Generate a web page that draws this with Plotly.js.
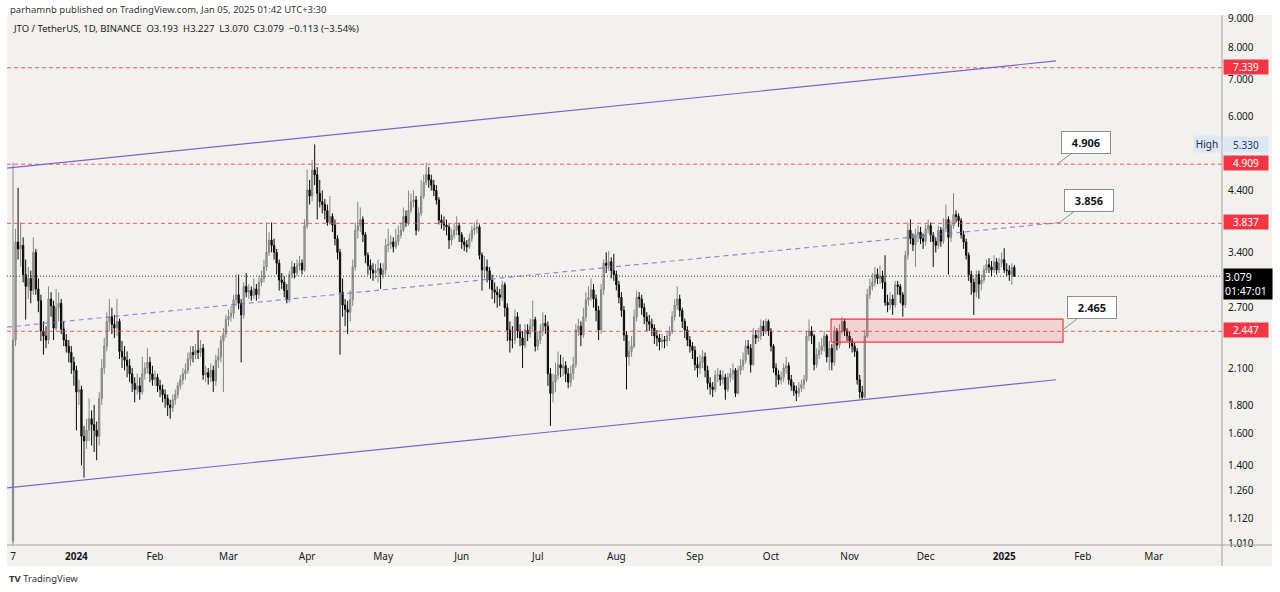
<!DOCTYPE html>
<html><head><meta charset="utf-8">
<script src="https://cdn.plot.ly/plotly-3.0.1.min.js"></script>
<style>html,body{margin:0;padding:0;background:#fff;}#chart{width:1280px;height:592px;}</style>
</head><body><div id="chart"></div>
<script>
// ---- data ----
const startDate = '2023-12-07';          // first daily candle (JTO listing)
const firstOpen = 1.02;
const close = [
2.36,3.55,3.45,3.50,3.10,2.95,3.05,2.90,3.40,2.92,
2.78,2.45,2.40,2.36,2.80,2.72,2.48,2.70,2.75,2.47,
2.36,2.30,2.24,2.15,2.08,1.90,1.92,1.58,1.55,1.62,
1.70,1.66,1.62,1.58,1.85,2.10,2.30,2.55,2.60,2.52,
2.48,2.55,2.25,2.20,2.17,2.12,2.05,1.97,1.92,1.95,
1.90,2.05,2.10,2.15,2.05,2.00,2.02,1.95,1.92,1.88,
1.85,1.80,1.78,1.84,1.88,1.95,2.00,2.05,2.08,2.18,
2.24,2.22,2.26,2.24,2.28,2.04,2.06,2.02,2.08,1.99,
2.17,2.20,2.35,2.42,2.57,2.60,2.64,2.79,2.85,2.75,
2.62,2.95,2.88,2.90,2.84,2.92,2.85,3.00,3.05,3.20,
3.40,3.58,3.50,3.40,3.25,3.03,3.00,2.90,2.79,3.10,
3.20,3.12,3.22,3.25,3.16,3.80,4.41,4.30,4.79,4.70,
4.35,4.20,4.15,4.05,3.85,3.95,3.81,3.60,3.40,2.88,
2.73,2.68,2.65,2.79,3.20,3.73,3.80,3.90,3.66,3.36,
3.22,3.16,3.12,3.15,3.18,3.10,3.16,3.50,3.52,3.55,
3.48,3.56,3.65,3.73,3.95,3.85,4.05,4.20,4.23,3.73,
4.00,4.30,4.55,4.70,4.60,4.50,4.40,4.23,3.89,3.85,
3.81,3.78,3.58,3.65,3.73,3.80,3.66,3.55,3.51,3.48,
3.60,3.73,3.76,3.78,3.36,3.16,3.20,3.15,3.03,2.91,
2.88,2.85,2.82,2.97,2.70,2.46,2.36,2.36,2.60,2.45,
2.38,2.31,2.46,2.42,2.50,2.57,2.30,2.36,2.45,2.53,
2.50,2.05,1.89,1.98,2.04,2.13,2.10,2.12,2.05,1.98,
2.05,2.13,2.46,2.50,2.41,2.60,2.79,2.82,2.91,2.80,
2.67,2.46,2.91,3.25,3.22,3.27,3.15,3.10,2.97,2.82,
2.67,2.41,2.20,2.25,2.30,2.60,2.82,2.80,2.70,2.60,
2.55,2.52,2.48,2.40,2.38,2.34,2.36,2.35,2.40,2.45,
2.60,2.73,2.80,2.67,2.55,2.46,2.36,2.30,2.26,2.13,
2.10,2.15,2.20,2.08,1.97,1.94,1.92,2.04,2.04,2.00,
2.02,1.92,2.02,2.05,2.08,1.89,2.08,2.12,2.17,2.30,
2.28,2.13,2.41,2.38,2.40,2.50,2.45,2.55,2.45,2.30,
2.10,2.04,2.00,2.02,2.10,2.12,2.00,1.95,1.91,1.89,
1.93,1.96,2.00,2.40,2.45,2.40,2.13,2.22,2.26,2.30,
2.40,2.20,2.28,2.15,2.45,2.31,2.45,2.55,2.45,2.40,
2.35,2.30,2.25,2.00,1.90,1.86,2.40,2.85,2.95,3.00,
3.10,3.05,3.08,3.00,2.76,2.73,2.80,2.73,2.97,2.95,
2.85,2.73,3.36,3.73,3.60,3.51,3.66,3.70,3.60,3.56,
3.75,3.80,3.65,3.56,3.50,3.73,3.56,3.75,3.90,3.62,
3.80,3.98,3.95,3.88,3.66,3.55,3.36,3.10,3.00,2.88,
3.10,2.98,3.03,3.16,3.23,3.20,3.16,3.27,3.16,3.25,
3.30,3.16,3.15,3.10,3.193,3.079];
const high = [
4.94,3.75,4.45,3.85,3.62,3.30,3.20,3.15,3.62,3.45,
3.05,2.85,2.55,2.50,2.95,2.88,2.78,2.92,2.88,2.80,
2.55,2.42,2.36,2.30,2.20,2.12,2.00,1.95,1.65,1.70,
1.85,1.76,1.80,1.68,1.90,2.18,2.38,2.65,2.80,2.70,
2.62,2.80,2.58,2.35,2.30,2.25,2.18,2.10,2.02,2.05,
2.02,2.20,2.15,2.28,2.20,2.12,2.08,2.05,2.00,1.96,
1.92,1.88,1.84,1.88,1.92,1.98,2.04,2.10,2.14,2.24,
2.30,2.30,2.32,2.46,2.36,2.32,2.12,2.10,2.14,2.12,
2.22,2.28,2.40,2.48,2.62,2.68,2.72,2.85,3.10,3.10,
2.80,3.00,3.12,2.98,2.95,3.05,2.98,3.08,3.15,3.30,
3.85,3.70,3.85,3.60,3.45,3.30,3.12,3.08,2.98,3.15,
3.28,3.25,3.30,3.35,3.30,3.90,4.80,4.60,5.00,5.33,
4.85,4.60,4.40,4.25,4.15,4.30,4.00,3.90,3.65,3.45,
3.05,2.80,2.78,2.90,3.30,3.85,4.20,4.10,3.95,3.70,
3.40,3.30,3.25,3.24,3.30,3.25,3.25,3.60,3.75,3.65,
3.62,3.75,3.80,3.85,4.10,4.05,4.40,4.35,4.40,4.30,
4.10,4.60,4.70,4.94,4.85,4.70,4.60,4.50,4.28,3.98,
3.95,3.90,3.82,3.75,3.85,3.95,3.85,3.70,3.62,3.58,
3.68,3.80,3.85,3.90,3.82,3.40,3.35,3.30,3.20,3.10,
3.00,2.95,2.92,3.02,3.00,2.75,2.55,2.50,2.68,2.65,
2.52,2.45,2.52,2.52,2.58,2.78,2.60,2.45,2.52,2.65,
2.62,2.55,2.10,2.05,2.15,2.25,2.22,2.20,2.16,2.10,
2.12,2.20,2.52,2.58,2.55,2.70,2.88,2.95,3.05,2.98,
2.85,2.72,2.98,3.30,3.40,3.42,3.33,3.38,3.15,3.02,
2.88,2.72,2.45,2.35,2.40,2.68,2.90,2.88,2.85,2.75,
2.65,2.62,2.58,2.52,2.46,2.42,2.42,2.40,2.45,2.50,
2.66,2.80,2.95,2.85,2.70,2.58,2.50,2.40,2.34,2.30,
2.20,2.22,2.26,2.24,2.12,2.02,1.98,2.08,2.10,2.08,
2.08,2.05,2.06,2.10,2.14,2.10,2.12,2.18,2.24,2.36,
2.36,2.32,2.48,2.46,2.48,2.57,2.56,2.58,2.57,2.48,
2.32,2.14,2.08,2.07,2.14,2.20,2.15,2.04,1.98,1.95,
1.98,2.00,2.04,2.45,2.57,2.50,2.42,2.28,2.34,2.38,
2.45,2.42,2.35,2.32,2.50,2.48,2.52,2.60,2.58,2.48,
2.44,2.38,2.33,2.28,2.04,1.95,2.46,2.92,3.05,3.12,
3.20,3.18,3.22,3.15,3.36,2.85,2.88,2.85,3.02,3.02,
2.98,2.88,3.42,3.85,3.90,3.68,3.75,3.80,3.78,3.68,
3.82,3.90,3.85,3.70,3.62,3.80,3.78,3.92,4.15,3.95,
3.88,4.35,4.05,4.00,3.92,3.72,3.60,3.40,3.15,3.05,
3.15,3.15,3.10,3.22,3.30,3.32,3.28,3.36,3.32,3.32,
3.40,3.46,3.25,3.22,3.25,3.227];
const low = [
0.98,2.30,3.30,3.20,3.00,2.57,2.80,2.75,2.85,2.85,
2.65,2.35,2.22,2.28,2.32,2.60,2.36,2.45,2.55,2.42,
2.30,2.24,2.15,2.05,1.95,1.62,1.80,1.40,1.33,1.50,
1.55,1.52,1.48,1.43,1.52,1.80,2.05,2.25,2.45,2.42,
2.38,2.40,2.18,2.10,2.08,2.02,1.98,1.90,1.82,1.88,
1.84,1.88,2.00,2.05,1.98,1.95,1.95,1.90,1.86,1.82,
1.78,1.72,1.70,1.75,1.80,1.85,1.92,1.96,2.00,2.05,
2.12,2.15,2.18,2.18,2.20,2.00,1.98,1.96,1.98,1.90,
1.95,2.10,2.15,1.90,2.38,2.50,2.55,2.58,2.72,2.68,
2.15,2.58,2.82,2.80,2.78,2.80,2.78,2.80,2.95,3.00,
3.15,3.35,3.40,3.30,3.10,2.90,2.92,2.82,2.75,2.76,
3.05,3.05,3.08,3.15,3.10,3.14,3.75,4.15,4.20,4.50,
3.90,4.10,4.00,3.90,3.80,3.82,3.70,3.50,3.30,2.22,
2.60,2.50,2.42,2.55,2.72,3.15,3.60,3.70,3.55,3.25,
3.10,3.05,3.02,3.05,3.00,2.92,3.05,3.10,3.40,3.45,
3.40,3.45,3.50,3.60,3.70,3.78,3.80,4.00,4.10,3.65,
3.70,3.95,4.25,4.50,4.45,4.40,4.30,4.15,3.82,3.75,
3.72,3.65,3.45,3.50,3.60,3.65,3.55,3.45,3.42,3.40,
3.45,3.55,3.65,3.68,3.30,2.90,3.05,3.00,2.92,2.80,
2.75,2.70,2.72,2.78,2.60,2.35,2.24,2.28,2.32,2.38,
2.30,2.10,2.28,2.35,2.38,2.45,2.25,2.26,2.32,2.40,
2.42,1.95,1.65,1.82,1.90,2.00,2.02,2.03,1.98,1.93,
1.94,2.00,2.10,2.40,2.30,2.38,2.55,2.72,2.78,2.70,
2.55,2.36,2.42,2.85,3.12,3.15,3.05,3.02,2.90,2.75,
2.60,2.35,1.92,2.12,2.20,2.28,2.55,2.70,2.62,2.52,
2.45,2.45,2.40,2.32,2.30,2.26,2.28,2.28,2.30,2.35,
2.42,2.56,2.68,2.60,2.48,2.38,2.30,2.24,2.18,2.08,
2.02,2.05,2.10,2.02,1.92,1.88,1.86,1.90,1.98,1.95,
1.96,1.84,1.90,1.98,2.00,1.86,1.88,2.04,2.08,2.14,
2.22,2.06,2.12,2.32,2.34,2.36,2.40,2.42,2.40,2.25,
2.06,1.94,1.96,1.96,1.98,2.05,1.96,1.91,1.87,1.83,
1.86,1.90,1.92,1.98,2.35,2.32,2.08,2.10,2.18,2.22,
2.25,2.15,2.08,2.08,2.12,2.26,2.28,2.42,2.40,2.35,
2.28,2.24,2.20,1.96,1.85,1.84,1.85,2.38,2.80,2.90,
2.95,2.98,2.98,2.92,2.72,2.65,2.68,2.62,2.70,2.85,
2.75,2.60,2.70,3.30,3.52,3.42,3.20,3.55,3.52,3.45,
3.50,3.68,3.55,3.20,3.40,3.45,3.48,3.52,3.70,3.10,
3.55,3.75,3.85,3.78,3.60,3.45,3.30,3.02,2.85,2.62,
2.82,2.80,2.90,3.00,3.12,3.12,3.08,3.12,3.10,3.12,
3.20,3.12,3.08,3.02,2.97,3.070];

// horizontal levels (red dashed) and other drawn objects
const levels = [7.339, 4.909, 3.837, 2.447];
const lastPrice = 3.079;
const highPrice = 5.330;
const upperDates = ['2023-12-04 15:00', '2025-01-21 10:00'];
const upperPrices = [4.83, 7.55];
const lowerDates = ['2023-12-04 15:00', '2025-01-21 10:00'];
const lowerPrices = [1.274, 2.00];
const midDates = ['2023-12-04 15:00', '2025-01-24 05:00'];
const midPrices = [2.49, 3.856];
const zoneDates = ['2024-10-24 17:00', '2025-01-24 05:00'];
const zonePrices = [2.340, 2.575];
const callouts = [
  {text: '4.906', date: '2025-01-21 19:00', price: 4.906},
  {text: '3.856', date: '2025-01-23 00:00', price: 3.856},
  {text: '2.465', date: '2025-01-24 05:00', price: 2.465}
];
const yTicks = [1.010, 1.120, 1.260, 1.400, 1.600, 1.800, 2.100, 2.700, 3.400, 4.400, 6.000, 7.000, 8.000, 9.000];
const xTickDates = ['2023-12-07','2024-01-01','2024-02-01','2024-03-01','2024-04-01','2024-05-01','2024-06-01','2024-07-01','2024-08-01','2024-09-01','2024-10-01','2024-11-01','2024-12-01','2025-01-01','2025-02-01','2025-03-01'];
const xTickText = ['7','<b>2024</b>','Feb','Mar','Apr','May','Jun','Jul','Aug','Sep','Oct','Nov','Dec','<b>2025</b>','Feb','Mar'];

// ---- build ----
const dates = close.map((_, i) => {
  const d = new Date(Date.UTC(2023, 11, 7 + i));
  return d.toISOString().slice(0, 10);
});
const open = close.map((c, i) => i === 0 ? firstOpen : close[i - 1]);

const X0 = '2023-12-04 15:00', X1 = '2025-03-27 22:00';
const FONT = 'Noto Sans, Open Sans, sans-serif';
// pixel helpers: plot area is x 7..1222, y 15..545
const px = x => (x - 7) / 1215;
const py = y => (545 - y) / 530;

const traces = [];
levels.forEach(v => traces.push({
  type: 'scatter', mode: 'lines', x: [X0, X1], y: [v, v],
  line: {color: 'rgba(242,54,69,0.8)', width: 1, dash: '4px,3px'}, hoverinfo: 'skip', showlegend: false
}));
traces.push({type: 'scatter', mode: 'lines', x: [X0, X1], y: [lastPrice, lastPrice],
  line: {color: '#333', width: 1, dash: '1px,2px'}, hoverinfo: 'skip', showlegend: false});
traces.push({type: 'scatter', mode: 'lines', x: upperDates, y: upperPrices,
  line: {color: '#7e63cf', width: 1.2}, hoverinfo: 'skip', showlegend: false});
traces.push({type: 'scatter', mode: 'lines', x: lowerDates, y: lowerPrices,
  line: {color: '#7e63cf', width: 1.2}, hoverinfo: 'skip', showlegend: false});
traces.push({type: 'scatter', mode: 'lines', x: midDates, y: midPrices,
  line: {color: 'rgba(126,99,207,0.75)', width: 1.2, dash: '5px,4px'}, hoverinfo: 'skip', showlegend: false});
traces.push({
  type: 'candlestick', x: dates, open: open, high: high, low: low, close: close,
  increasing: {line: {color: '#858585', width: 1}, fillcolor: '#a8a8a8'},
  decreasing: {line: {color: '#0a0a0a', width: 1}, fillcolor: '#0a0a0a'},
  whiskerwidth: 0, hoverinfo: 'skip', showlegend: false
});
traces.push({type: 'scatter', mode: 'lines', fill: 'toself',
  x: [zoneDates[0], zoneDates[1], zoneDates[1], zoneDates[0], zoneDates[0]],
  y: [zonePrices[0], zonePrices[0], zonePrices[1], zonePrices[1], zonePrices[0]],
  fillcolor: 'rgba(242,54,69,0.16)', line: {color: '#f23645', width: 1.2}, hoverinfo: 'skip', showlegend: false});

const ann = [];
// right-axis price labels
levels.forEach(v => ann.push({xref: 'paper', yref: 'y', x: 1.0008, xanchor: 'left', y: Math.log10(v), yanchor: 'middle',
  text: v.toFixed(3), showarrow: false, bgcolor: '#f23645', font: {family: FONT, size: 10, color: '#fff'},
  width: 42, height: 12, borderpad: 1, yshift: 1}));
ann.push({xref: 'paper', yref: 'y', x: 1.0008, xanchor: 'left', y: Math.log10(lastPrice), yanchor: 'top', yshift: 8,
  text: lastPrice.toFixed(3) + '<br>01:47:01', showarrow: false, bgcolor: '#000', align: 'left',
  font: {family: FONT, size: 10.5, color: '#fff'}, width: 46, borderpad: 1});
ann.push({xref: 'paper', yref: 'y', x: 1.0008, xanchor: 'left', y: Math.log10(highPrice), yanchor: 'middle',
  text: highPrice.toFixed(3), showarrow: false, bgcolor: '#dde7f5', font: {family: FONT, size: 10, color: '#2a3a5a'},
  width: 42, height: 13, borderpad: 1});
ann.push({xref: 'paper', yref: 'y', x: 0.9992, xanchor: 'right', y: Math.log10(highPrice), yanchor: 'middle',
  text: 'High', showarrow: false, bgcolor: '#dde7f5', font: {family: FONT, size: 10, color: '#2a2e39'},
  width: 24, borderpad: 1});
// callouts
callouts.forEach(c => ann.push({xref: 'x', yref: 'y', x: c.date, y: Math.log10(c.price),
  text: '<b>' + c.text + '</b>', showarrow: true, arrowhead: 0, arrowwidth: 1, arrowcolor: '#8a8d96',
  ax: 29, ay: -22, bgcolor: '#ffffff', bordercolor: '#8a8d96', borderwidth: 1, borderpad: 3,
  width: 42, font: {family: FONT, size: 11, color: '#131722'}}));
// header / legend / footer
ann.push({xref: 'paper', yref: 'paper', x: px(8), y: py(9), xanchor: 'left', yanchor: 'middle', showarrow: false,
  text: 'parhamnb published on TradingView.com, Jan 05, 2025 01:42 UTC+3:30', font: {family: FONT, size: 9.5, color: '#333'}});
ann.push({xref: 'paper', yref: 'paper', x: px(11), y: py(29), xanchor: 'left', yanchor: 'middle', showarrow: false,
  text: 'JTO / TetherUS, 1D, BINANCE\u00a0\u00a0O3.193\u00a0\u00a0H3.227\u00a0\u00a0L3.070\u00a0\u00a0C3.079\u00a0\u00a0\u22120.113 (\u22123.54%)',
  font: {family: FONT, size: 9.5, color: '#222'}});
ann.push({xref: 'paper', yref: 'paper', x: px(7), y: py(578), xanchor: 'left', yanchor: 'middle', showarrow: false,
  text: '<b>TV</b> TradingView', font: {family: FONT, size: 9.5, color: '#333'}});

const layout = {
  width: 1280, height: 592,
  margin: {l: 7, r: 58, t: 15, b: 47},
  paper_bgcolor: '#ffffff', plot_bgcolor: '#f3f1ee',
  showlegend: false, dragmode: false, hovermode: false,
  xaxis: {type: 'date', range: [X0, X1], rangeslider: {visible: false}, showgrid: false, zeroline: false,
    showline: false, ticks: '', tickvals: xTickDates, ticktext: xTickText, ticklabelstandoff: 4,
    tickfont: {family: FONT, size: 10, color: '#131722'}},
  yaxis: {type: 'log', side: 'right', range: [Math.log10(1.0045), Math.log10(9.142)], showgrid: false, zeroline: false,
    showline: false, ticks: '', tickvals: yTicks, ticktext: yTicks.map(v => v.toFixed(3)), ticklabelstandoff: 5,
    tickfont: {family: FONT, size: 10, color: '#131722'}},
  shapes: [
    {type: 'rect', xref: 'paper', yref: 'paper', x0: 0, x1: px(1272), y0: py(566), y1: 1, layer: 'below',
      fillcolor: '#f3f1ee', line: {width: 0}},
    {type: 'line', xref: 'paper', yref: 'paper', x0: 1, x1: 1, y0: py(566), y1: 1, line: {color: '#a3a3a3', width: 1}},
    {type: 'line', xref: 'paper', yref: 'paper', x0: 0, x1: px(1272), y0: 0, y1: 0, line: {color: '#a3a3a3', width: 1}}
  ],
  annotations: ann
};
Plotly.newPlot('chart', traces, layout, {displayModeBar: false, staticPlot: true});
</script>
</body></html>
